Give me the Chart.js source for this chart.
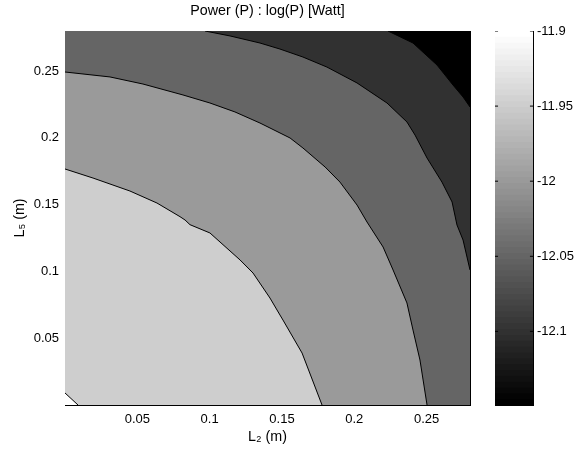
<!DOCTYPE html>
<html><head><meta charset="utf-8">
<script src="https://cdn.jsdelivr.net/npm/chart.js@4.4.0/dist/chart.umd.min.js"></script>
<style>
html,body{margin:0;padding:0;background:#fff;}
#wrap{position:relative;width:577px;height:456px;overflow:hidden;}
#main{position:absolute;left:0;top:0;}
#cbar{position:absolute;left:495px;top:0;}
</style></head><body>
<div id="wrap">
<canvas id="main" width="577" height="456"></canvas>
<canvas id="cbar" width="82" height="456"></canvas>
</div>
<script>
// ---- text ----
const titleText = 'Power (P) : log(P) [Watt]';
const xTitle = 'L₂ (m)';
const yTitle = 'L₅ (m)';
// ---- axes ----
const axisMin = 0, axisMax = 0.28;
const xTicks = [0.05, 0.1, 0.15, 0.2, 0.25];
const yTicks = [0.05, 0.1, 0.15, 0.2, 0.25];
// ---- contour lines [L2, L5] (highest level first) ----
const contour1 = [[0,0.0090],[0.0090,0]];
const contour2 = [[0,0.1767],[0.0194,0.1699],[0.0449,0.1602],[0.0636,0.1512],[0.0795,0.1410],[0.0830,0.1385],[0.0864,0.1350],[0.1002,0.1288],[0.1210,0.1086],[0.1300,0.0988],[0.1417,0.0801],[0.1486,0.0674],[0.1507,0.0636],[0.1639,0.0389],[0.1777,0]];
const contour3 = [[0,0.2493],[0.0311,0.2456],[0.0539,0.2403],[0.0816,0.2321],[0.1002,0.2261],[0.1175,0.2194],[0.1348,0.2111],[0.1417,0.2074],[0.1556,0.1999],[0.1645,0.1924],[0.1798,0.1782],[0.1901,0.1669],[0.2019,0.1497],[0.2088,0.1370],[0.2199,0.1183],[0.2268,0.1011],[0.2364,0.0764],[0.2406,0.0561],[0.2454,0.0337],[0.2503,0]];
const contour4 = [[0.0968,0.28],[0.1141,0.2763],[0.1348,0.2710],[0.1486,0.2665],[0.1645,0.2605],[0.1811,0.2530],[0.2019,0.2411],[0.2226,0.2261],[0.2364,0.2119],[0.2420,0.2021],[0.2503,0.1849],[0.2606,0.1669],[0.2676,0.1520],[0.2710,0.1348],[0.2752,0.1235],[0.28,0.1011]];
const contour5 = [[0.2233,0.28],[0.2406,0.2710],[0.2572,0.2545],[0.2682,0.2396],[0.2752,0.2306],[0.28,0.2231]];
// fill colour on the origin side of each contour, and outermost (lowest) band
const regionColors = ['#FFFFFF','#CECECE','#9A9A9A','#656565','#313131'];
const lowestColor = '#000000';
// ---- colour bar ----
const cbarMin = -12.149, cbarMax = -11.9;
const cbarTicks = [-11.9, -11.95, -12, -12.05, -12.1];
const cbarSteps = 64;

const FONT = "'Liberation Sans', Arial, Helvetica, sans-serif";
const FS = 13;       // tick labels
const FS_T = 14.3;   // titles / axis labels
Chart.defaults.font.family = FONT;
Chart.defaults.color = '#000';

const contours = [contour1, contour2, contour3, contour4, contour5];
const toPts = arr => arr.map(p => ({x: p[0], y: p[1]}));

const datasets = [];
// background (lowest band)
datasets.push({data: toPts([[axisMin, axisMax],[axisMax, axisMax]]), fill: 'origin',
  backgroundColor: lowestColor, borderWidth: 0, pointRadius: 0, order: 100});
// filled regions, darkest (largest) first
contours.forEach((c, i) => {
  let pts = c.slice();
  if (pts[0][1] === axisMax && pts[0][0] !== axisMin) pts = [[axisMin, axisMax]].concat(pts);
  datasets.push({data: toPts(pts), fill: 'origin', backgroundColor: regionColors[i],
    borderWidth: 0, pointRadius: 0, order: 50 + i});
});
// contour lines
contours.forEach((c, i) => {
  datasets.push({data: toPts(c), fill: false, borderColor: '#000', borderWidth: 1,
    pointRadius: 0, order: 1 + i});
});

const fontObj = {family: FONT, size: FS, weight: 'normal'};
const fontT = {family: FONT, size: FS_T, weight: 'normal'};
const noGrid = {display: false, drawTicks: false, tickLength: 0};
const edgeScale = (pos) => ({
  type: 'linear', position: pos, min: axisMin, max: axisMax, display: true,
  grid: noGrid, ticks: {display: false},
  border: {display: true, color: '#000', width: 1},
  afterFit: s => { if (pos === 'top' || pos === 'bottom') s.height = 0; else s.width = 0; }
});

new Chart(document.getElementById('main'), {
  type: 'line',
  data: {datasets},
  options: {
    responsive: false, animation: false, events: [],
    layout: {padding: {left: 0, right: 107, top: 0, bottom: 0}},
    plugins: {
      legend: {display: false}, tooltip: {enabled: false},
      title: {display: true, text: titleText, fullSize: false, color: '#000',
        font: fontT, padding: {top: 2.5, bottom: 31 - 2.5 - FS_T * 1.2}}
    },
    elements: {line: {tension: 0}},
    scales: {
      x: {type: 'linear', position: 'bottom', min: axisMin, max: axisMax,
        afterBuildTicks: s => { s.ticks = xTicks.map(v => ({value: v})); },
        afterFit: s => { s.height = 51; },
        grid: noGrid, border: {display: true, color: '#000', width: 1},
        ticks: {color: '#000', font: fontObj, padding: 7, maxRotation: 0, autoSkip: false, callback: v => String(v)},
        title: {display: true, text: xTitle, color: '#000', font: fontT, padding: {top: 0, bottom: 10}}},
      y: {type: 'linear', position: 'left', min: axisMin, max: axisMax,
        afterBuildTicks: s => { s.ticks = yTicks.map(v => ({value: v})); },
        afterFit: s => { s.width = 65; },
        grid: noGrid, border: {display: true, color: '#000', width: 1},
        ticks: {color: '#000', font: fontObj, padding: 6, autoSkip: false, callback: v => String(v)},
        title: {display: true, text: yTitle, color: '#000', font: fontT, padding: {top: 11, bottom: 0}}},
      x2: edgeScale('top'),
      y2: edgeScale('right')
    }
  }
});

// ---- colour bar chart ----
const cbDatasets = [];
const step = (cbarMax - cbarMin) / cbarSteps;
for (let k = 0; k < cbarSteps; k++) {
  const hi = cbarMin + (k + 1) * step;
  const g = Math.round(k / (cbarSteps - 1) * 255);
  cbDatasets.push({data: [{x: 0, y: hi}, {x: 1, y: hi}], fill: 'start',
    backgroundColor: `rgb(${g},${g},${g})`, borderWidth: 0, pointRadius: 0, order: 10 + k});
}
cbarTicks.forEach(t => {
  cbDatasets.push({data: [{x: 0, y: t}, {x: 0.08, y: t}, {x: 0.5, y: null}, {x: 0.92, y: t}, {x: 1, y: t}],
    fill: false, borderColor: '#000', borderWidth: 1, pointRadius: 0, spanGaps: false, order: 1});
});
const cbEdge = (pos) => ({
  type: 'linear', position: pos, display: true,
  min: (pos === 'top' || pos === 'bottom') ? 0 : cbarMin,
  max: (pos === 'top' || pos === 'bottom') ? 1 : cbarMax,
  grid: noGrid, ticks: {display: false},
  border: {display: true, color: '#000', width: 1},
  afterFit: s => { if (pos === 'top' || pos === 'bottom') s.height = 0; else s.width = 0; }
});
new Chart(document.getElementById('cbar'), {
  type: 'line',
  data: {datasets: cbDatasets},
  options: {
    responsive: false, animation: false, events: [],
    layout: {padding: {left: 0, right: 0, top: 31, bottom: 51}},
    plugins: {legend: {display: false}, tooltip: {enabled: false}},
    elements: {line: {tension: 0}},
    scales: {
      x: cbEdge('bottom'),
      x2: cbEdge('top'),
      y2: cbEdge('left'),
      y: {type: 'linear', position: 'right', min: cbarMin, max: cbarMax,
        afterBuildTicks: s => { s.ticks = cbarTicks.map(v => ({value: v})); },
        afterFit: s => { s.width = 44; },
        grid: noGrid, border: {display: true, color: '#000', width: 1},
        ticks: {color: '#000', font: fontObj, padding: 4, autoSkip: false, callback: v => String(v)}}
    }
  }
});
</script>
</body></html>
